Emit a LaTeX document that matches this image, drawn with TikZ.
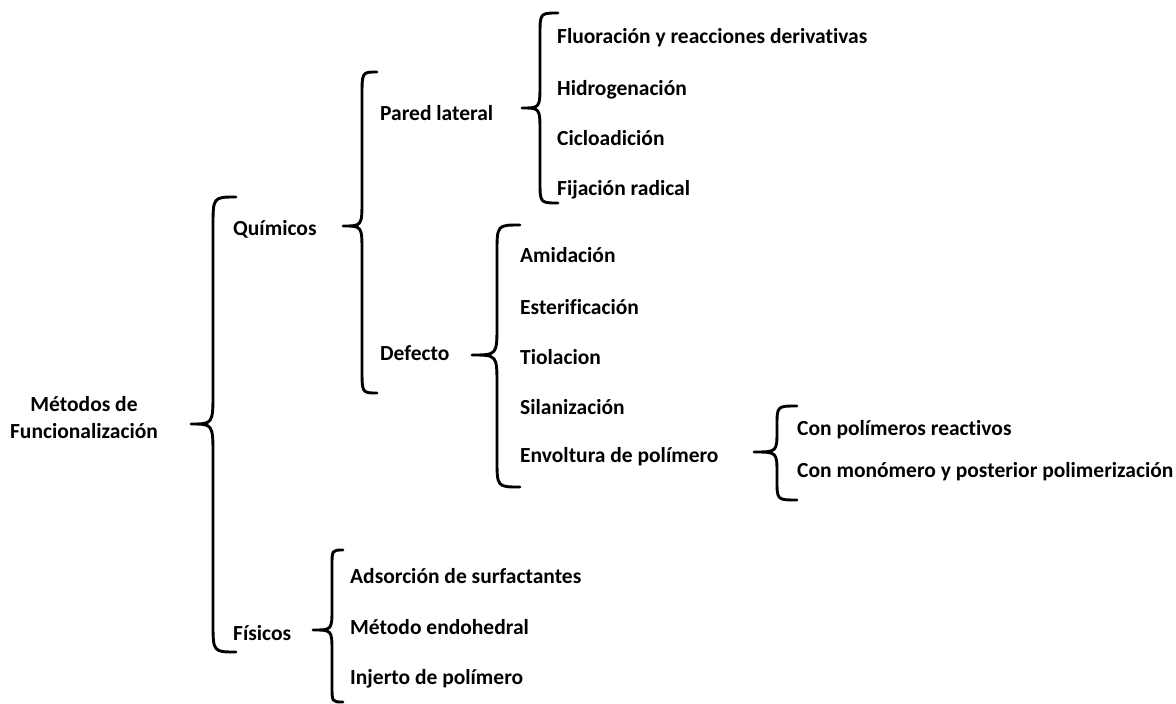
\documentclass[tikz,border=0pt]{standalone}
\usepackage{fontspec}
\setmainfont{Carlito}[Ligatures=NoCommon]
% #1 xr, #2 xs (spine), #3 xt (tip), #4 ytop, #5 ytip, #6 ybot, #7 end radius, #8 tip radius
\newcommand\mybrace[8]{%
  \draw[bracestyle] ({#1},{#4}) .. controls ({#2},{#4}) .. ({#2},{#4+#7})
    -- ({#2},{#5-#8}) .. controls ({#2},{#5}) .. ({#3},{#5})
    .. controls ({#2},{#5}) .. ({#2},{#5+#8})
    -- ({#2},{#6-#7}) .. controls ({#2},{#6}) .. ({#1},{#6});}
\begin{document}
\begin{tikzpicture}[x=1pt,y=-1pt,
  lbl/.style={anchor=base west, inner sep=0pt, font=\bfseries\fontsize{21.5}{26}\selectfont},
  root/.style={anchor=center, inner sep=0pt, align=center, font=\bfseries\fontsize{21.5}{27}\selectfont},
  bracestyle/.style={line width=2.9pt, line cap=round, line join=round}]
\useasboundingbox (0,0) rectangle (1176,704);

% texts
\node[root] (root) at (84,418) {Métodos de\\Funcionalización};
\node[lbl] (quim) at (233,235) {Químicos};
\node[lbl] (fis) at (233,640) {Físicos};
\node[lbl] (pared) at (380,120) {Pared lateral};
\node[lbl] (defecto) at (380,360) {Defecto};
\node[lbl] (fluo) at (557,43) {Fluoración y reacciones derivativas};
\node[lbl] (hidro) at (557,95) {Hidrogenación};
\node[lbl] (ciclo) at (557,145) {Cicloadición};
\node[lbl] (fija) at (557,195) {Fijación radical};
\node[lbl] (amid) at (520,262) {Amidación};
\node[lbl] (ester) at (520,314) {Esterificación};
\node[lbl] (tiol) at (520,364) {Tiolacion};
\node[lbl] (silan) at (520,414) {Silanización};
\node[lbl] (envol) at (520,462) {Envoltura de polímero};
\node[lbl] (conpol) at (797,435) {Con polímeros reactivos};
\node[lbl] (conmon) at (797,477) {Con monómero y posterior polimerización};
\node[lbl] (adsor) at (350,583) {Adsorción de surfactantes};
\node[lbl] (endo) at (350,634) {Método endohedral};
\node[lbl] (injer) at (350,684) {Injerto de polímero};

% braces
\mybrace{236}{213}{191}{197}{424}{652}{30}{32}
\mybrace{377}{362}{343}{72}{226}{393}{24}{26}
\mybrace{558}{540}{522}{13}{108}{203}{22}{24}
\mybrace{520}{497}{472}{225}{355}{487}{28}{30}
\mybrace{797}{777}{754}{406}{452}{500}{20}{22}
\mybrace{343}{332}{313}{550}{630}{702}{16}{22}
\end{tikzpicture}
\end{document}
